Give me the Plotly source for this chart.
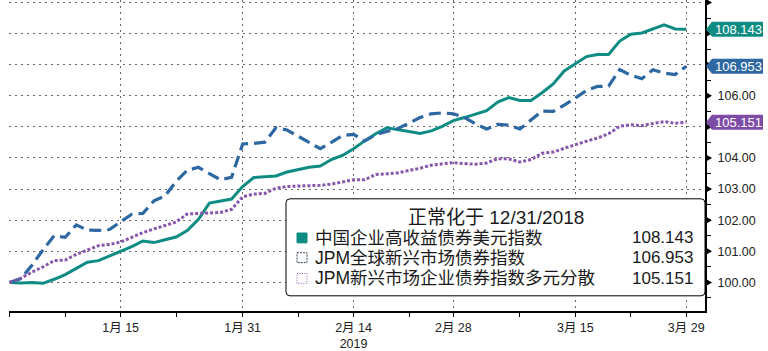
import pandas as pd
import plotly.graph_objects as go

# ---------------- data ----------------
holidays = ["2019-01-01", "2019-01-21", "2019-02-18"]
dates = [d.strftime("%Y-%m-%d") for d in
         pd.bdate_range("2018-12-31", "2019-03-29", freq="C", holidays=holidays)]

china_hy = [100.0, 99.98, 100.0, 99.97, 100.1, 100.25, 100.45, 100.65, 100.7, 100.85,
            101.0, 101.15, 101.33, 101.28, 101.37, 101.46, 101.67, 102.02, 102.55, 102.62,
            102.68, 103.08, 103.37, 103.40, 103.42, 103.55, 103.63, 103.70, 103.74, 103.95,
            104.08, 104.3, 104.55, 104.78, 104.97, 104.9, 104.85, 104.79, 104.87, 105.02,
            105.2, 105.3, 105.4, 105.52, 105.8, 105.94, 105.85, 105.85, 106.1, 106.38,
            106.8, 107.03, 107.26, 107.33, 107.33, 107.76, 107.98, 108.02, 108.15, 108.28,
            108.15, 108.143]
jpm_embi = [100.0, 100.12, 100.55, 101.05, 101.5, 101.45, 101.85, 101.68, 101.67, 101.7,
            101.95, 102.19, 102.22, 102.62, 102.78, 103.25, 103.6, 103.7, 103.5, 103.3,
            103.38, 104.45, 104.47, 104.51, 104.97, 104.9, 104.7, 104.5, 104.3, 104.5,
            104.72, 104.76, 104.55, 104.75, 104.85, 104.95, 105.12, 105.3, 105.42, 105.45,
            105.42, 105.3, 105.1, 104.93, 105.08, 105.06, 104.93, 105.22, 105.51, 105.5,
            105.7, 105.93, 106.17, 106.3, 106.31, 106.84, 106.66, 106.55, 106.84, 106.73,
            106.68, 106.953]
jpm_cembi = [100.0, 100.14, 100.33, 100.5, 100.7, 100.72, 100.9, 101.04, 101.18, 101.22,
             101.3, 101.45, 101.6, 101.72, 101.82, 101.94, 102.2, 102.22, 102.22, 102.25,
             102.35, 102.75, 102.84, 102.86, 103.03, 103.08, 103.1, 103.1, 103.12, 103.16,
             103.22, 103.3, 103.3, 103.47, 103.49, 103.52, 103.6, 103.67, 103.77, 103.82,
             103.85, 103.82, 103.8, 103.84, 103.98, 103.97, 103.87, 103.95, 104.15, 104.19,
             104.32, 104.43, 104.54, 104.64, 104.78, 105.02, 105.07, 105.04, 105.11, 105.17,
             105.12, 105.151]

series_names = ["中国企业高收益债券美元指数", "JPM全球新兴市场债券指数", "JPM新兴市场企业债券指数多元分散"]
last_values = ["108.143", "106.953", "105.151"]
legend_title = "正常化于 12/31/2018"

tick_dates = ["2018-12-31", "2019-01-15", "2019-01-31", "2019-02-14", "2019-02-28", "2019-03-15", "2019-03-29"]
tick_labels = ["", "1月 15", "1月 31", "2月 14<br>2019", "2月 28", "3月 15", "3月 29"]
minor_tick_dates = ["2019-01-08", "2019-01-23", "2019-02-07", "2019-02-22", "2019-03-08", "2019-03-22"]
y_ticks = [100, 101, 102, 103, 104, 105, 106, 107, 108, 109]
y_labeled = [100, 101, 102, 103, 104, 106]   # others are hidden under the value tags

# ---------------- style ----------------
TEAL = "#0e8c84"
BLUE = "#2e68a2"
PURPLE = "#8856aa"
TAG_PURPLE = "#7e4ca6"
colors = [TEAL, BLUE, PURPLE]
tag_colors = [TEAL, BLUE, TAG_PURPLE]
FONT = "Liberation Sans, Noto Sans CJK SC, sans-serif"

W, H = 768, 351
ML, MR, MT, MB = 9, 63, 0, 36
PW, PH = W - ML - MR, H - MT - MB

def px2paper_x(px):
    return (px - ML) / PW

def px2paper_y(py):
    return (H - MB - py) / PH

idx = list(range(len(dates)))
tick_idx = [dates.index(d) for d in tick_dates]
minor_idx = [dates.index(d) for d in minor_tick_dates if d in dates]

fig = go.Figure()
series = [china_hy, jpm_embi, jpm_cembi]
dashes = ["solid", "12px,6px", "3px,2px"]
widths = [3, 3.2, 3]
for name, vals, c, d, w in zip(series_names, series, colors, dashes, widths):
    fig.add_trace(go.Scatter(
        x=idx, y=vals, mode="lines", name=name,
        line=dict(color=c, width=w, dash=d),
        text=dates, hovertemplate="%{text}<br>%{y:.3f}<extra>" + name + "</extra>",
        showlegend=False))

shapes = []
annotations = []

# right-axis triangle tick markers
for v in y_ticks:
    shapes.append(dict(type="path", xref="paper", yref="y", xsizemode="pixel", ysizemode="pixel",
                       xanchor=1, yanchor=v, path="M1,-3.5 L7,0 L1,3.5 Z",
                       fillcolor="black", line=dict(width=0), layer="above"))

# value tags on right axis
for val, c in zip(last_values, tag_colors):
    v = float(val)
    shapes.append(dict(type="path", xref="paper", yref="y", xsizemode="pixel", ysizemode="pixel",
                       xanchor=1, yanchor=v, path="M1,0 L7,7.5 L58,7.5 L58,-7.5 L7,-7.5 Z",
                       fillcolor=c, line=dict(width=0), layer="above"))
    annotations.append(dict(xref="paper", yref="y", x=1, y=v, xanchor="left", yanchor="middle",
                            xshift=8, text=val, showarrow=False,
                            font=dict(family=FONT, size=13, color="white")))

# legend box (rounded rectangle)
bx0, bx1, by0, by1 = 286, 705, 202, 299
cx, cy = (bx0 + bx1) / 2, (by0 + by1) / 2
hw, hh, r = (bx1 - bx0) / 2, (by1 - by0) / 2, 4
box_path = (f"M{-hw+r},{-hh} L{hw-r},{-hh} Q{hw},{-hh} {hw},{-hh+r} L{hw},{hh-r} "
            f"Q{hw},{hh} {hw-r},{hh} L{-hw+r},{hh} Q{-hw},{hh} {-hw},{hh-r} "
            f"L{-hw},{-hh+r} Q{-hw},{-hh} {-hw+r},{-hh} Z")
shapes.append(dict(type="path", xref="paper", yref="paper", xsizemode="pixel", ysizemode="pixel",
                   xanchor=px2paper_x(cx), yanchor=px2paper_y(cy), path=box_path,
                   fillcolor="white", line=dict(color="black", width=1), layer="above"))

annotations.append(dict(xref="paper", yref="paper", x=px2paper_x(cx), y=px2paper_y(220),
                        xanchor="center", yanchor="middle", text=legend_title, showarrow=False,
                        font=dict(family=FONT, size=19, color="#1a1a1a")))

row_y = [241, 261, 282]
sym_styles = [
    dict(fillcolor=TEAL, line=dict(color=TEAL, width=1)),
    dict(fillcolor="white", line=dict(color="#3a4a60", width=1, dash="2px,1px")),
    dict(fillcolor="white", line=dict(color=PURPLE, width=1, dash="1px,1.5px")),
]
for ry, name, val, st in zip(row_y, series_names, last_values, sym_styles):
    shapes.append(dict(type="rect", xref="paper", yref="paper",
                       x0=px2paper_x(297), x1=px2paper_x(307),
                       y0=px2paper_y(ry - 5), y1=px2paper_y(ry + 5), layer="above", **st))
    annotations.append(dict(xref="paper", yref="paper", x=px2paper_x(313), y=px2paper_y(ry),
                            xanchor="left", yanchor="middle", text=name, showarrow=False,
                            font=dict(family=FONT, size=17.5, color="#1a1a1a")))
    annotations.append(dict(xref="paper", yref="paper", x=px2paper_x(695), y=px2paper_y(ry),
                            xanchor="right", yanchor="middle", text=val, showarrow=False,
                            font=dict(family=FONT, size=17, color="#1a1a1a")))

fig.update_layout(
    width=W, height=H,
    margin=dict(l=ML, r=MR, t=MT, b=MB, pad=0),
    paper_bgcolor="white", plot_bgcolor="white",
    font=dict(family=FONT, size=12.5, color="#222"),
    shapes=shapes, annotations=annotations,
    xaxis=dict(
        range=[-0.07, 62.69], tickmode="array", tickvals=tick_idx, ticktext=tick_labels,
        showgrid=True, gridcolor="#666", griddash="2px,4px", gridwidth=1,
        showline=True, linecolor="black", linewidth=1.5,
        ticks="outside", ticklen=4, tickcolor="black", tickwidth=1,
        minor=dict(tickvals=minor_idx, ticks="outside", ticklen=4, tickcolor="black",
                   tickwidth=1, showgrid=False),
        tickfont=dict(family=FONT, size=12.5, color="#222"),
        zeroline=False, fixedrange=True,
    ),
    yaxis=dict(
        side="right", range=[99.08, 109.08], tickmode="array", tickvals=y_ticks,
        ticktext=[f"{v:.2f}" if v in y_labeled else "" for v in y_ticks],
        showgrid=True, gridcolor="#666", griddash="2px,4px", gridwidth=1,
        showline=True, linecolor="black", linewidth=2,
        ticks="outside", ticklen=8, tickcolor="rgba(0,0,0,0)",
        minor=dict(dtick=0.5, tick0=0, ticks="outside", ticklen=4, tickcolor="black",
                   tickwidth=1, showgrid=False),
        tickfont=dict(family=FONT, size=12.5, color="#222"),
        zeroline=False, fixedrange=True,
    ),
)

fig.write_html("out.html")
